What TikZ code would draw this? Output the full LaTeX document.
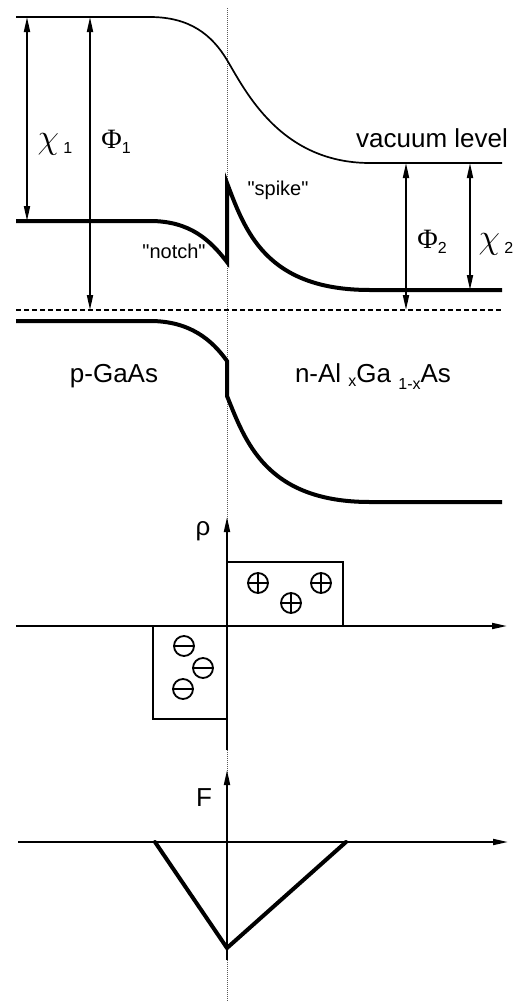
\documentclass[tikz,border=0pt]{standalone}
\usepackage{fontspec}
\setmainfont{Liberation Sans}
\newfontfamily\symfont{Liberation Serif}
\usetikzlibrary{arrows.meta}
\newcommand{\lsub}[2][5pt]{\raisebox{-#1}{\fontsize{16}{16}\selectfont #2}}
\newcommand{\grk}[1]{{\symfont\fontsize{28}{30}\selectfont #1}}
\newcommand{\chisym}{\scalebox{1.4}{$\chi$}}
\begin{document}
\begin{tikzpicture}[x=1pt, y=-1pt, >={Triangle[length=15pt,width=6pt]},
    every node/.style={font=\fontsize{26}{30}\selectfont, inner sep=0pt, anchor=base},
    level/.style={line width=1.7pt},
    band/.style={line width=4pt},
    meas/.style={<->, line width=1.8pt},
    axis/.style={->, line width=1.8pt},
    chargebox/.style={line width=1.6pt},
    ion/.style={line width=1.8pt},
    quote/.style={font=\fontsize{20}{24}\selectfont}]
    \useasboundingbox (0,0) rectangle (512,1002);

    % 1. interface (dotted) and Fermi level (dashed)
    \draw[gray!70!black, line width=0.7pt, dash pattern=on 1pt off 1pt] (227,8) -- (227,1002);
    \draw[line width=1.1pt, dash pattern=on 5pt off 3pt] (16,310) -- (502,310);

    % 2. vacuum level and bands
    \draw[level] (16,17) -- (150,17) .. controls (190,17) and (212,35) .. (227,60)
        .. controls (245,90) and (280,163) .. (370,163) -- (502,163);
    \draw[band, line join=miter] (16,221) -- (150,221) .. controls (190,221) and (210,240) .. (227,262)
        -- (227,183) .. controls (245,230) and (265,290) .. (370,290) -- (502,290);
    \draw[band] (16,321) -- (150,321) .. controls (190,321) and (212,340) .. (227,361)
        -- (227,396) .. controls (245,440) and (265,502) .. (370,502) -- (502,502);

    % 3. energies
    \coordinate (chiAtop) at (27,17);   \coordinate (chiAbot) at (27,221);
    \coordinate (phiAtop) at (90,17);   \coordinate (phiAbot) at (90,310);
    \coordinate (phiBtop) at (406,163); \coordinate (phiBbot) at (406,310);
    \coordinate (chiBtop) at (470,163); \coordinate (chiBbot) at (470,290);
    \draw[meas] (chiAtop) -- (chiAbot);
    \draw[meas] (phiAtop) -- (phiAbot);
    \draw[meas] (phiBtop) -- (phiBbot);
    \draw[meas] (chiBtop) -- (chiBbot);

    \node (chiA) at (55,148) {\chisym\,\lsub{1}};
    \node (phiA) at (116,148) {\grk{Φ}\lsub{1}};
    \node (phiB) at (432,248) {\grk{Φ}\lsub{2}};
    \node (chiB) at (496,248) {\chisym\,\lsub{2}};
    \node (vac) at (432,147) {vacuum level};
    \node[quote] (spike) at (278,195) {\textquotedbl spike\textquotedbl};
    \node[quote] (notch) at (174,258) {\textquotedbl notch\textquotedbl};
    \node (pside) at (114,382) {p-GaAs};
    \node (nside) at (373,382) {n-Al \lsub[4pt]{x}Ga \lsub[7pt]{1-x}As};

    % 4. charge density
    \coordinate (rhoO) at (227,626);
    \coordinate (rhoB) at (227,750);  \coordinate (rhoT) at (227,517);
    \coordinate (rhoL) at (16,626);   \coordinate (rhoR) at (507,626);
    \draw[axis] (rhoB) -- (rhoT);
    \draw[axis] (rhoL) -- (rhoR);
    \node (rho) at (203,535) {ρ};
    \draw[chargebox] (rhoO) rectangle (343,562);
    \draw[chargebox] (rhoO) rectangle (153,719);
    \foreach \x/\y in {258/583, 291/603, 321/583} {
        \draw[ion] (\x,\y) circle (10);
        \draw[ion] (\x-10,\y) -- (\x+10,\y) (\x,\y-10) -- (\x,\y+10);
    }
    \foreach \x/\y in {184/646, 203/668, 183/689} {
        \draw[ion] (\x,\y) circle (10);
        \draw[ion] (\x-10,\y) -- (\x+10,\y);
    }

    % 5. field
    \coordinate (fB) at (227,960);  \coordinate (fT) at (227,770);
    \coordinate (fL) at (18,842);   \coordinate (fR) at (508,842);
    \draw[axis] (fB) -- (fT);
    \draw[axis] (fL) -- (fR);
    \node (F) at (204,806) {F};
    \coordinate (fa) at (155,842); \coordinate (fm) at (227,948); \coordinate (fb) at (346,842);
    \draw[band, line cap=round] (fa) -- (fm) -- (fb);
\end{tikzpicture}
\end{document}
